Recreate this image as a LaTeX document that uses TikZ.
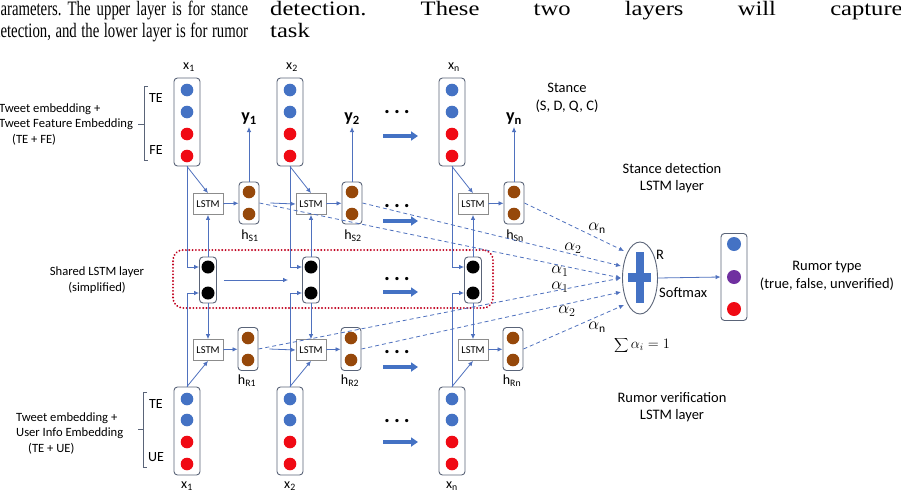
\documentclass[tikz,border=0pt]{standalone}
\usepackage{fontspec}
\setmainfont{Carlito}
\newfontfamily\paperfont{Liberation Serif}
\usepackage{graphicx}
\usetikzlibrary{arrows.meta}
\usetikzlibrary{shapes.geometric}
\usetikzlibrary{calc}

\definecolor{dotblue}{RGB}{68,114,196}
\definecolor{dotred}{RGB}{240,10,20}
\definecolor{dotbrown}{RGB}{150,72,10}
\definecolor{dotpurple}{RGB}{112,48,160}
\definecolor{boxline}{RGB}{90,100,120}
\definecolor{lstmline}{RGB}{140,140,140}
\definecolor{wire}{RGB}{79,113,190}
\definecolor{sharedred}{RGB}{192,0,30}

\tikzset{
  vecbox/.style={draw=boxline, line width=0.9pt, rounded corners=3.5pt, fill=white, minimum width=26pt, inner sep=0pt},
  lstmbox/.style={draw=lstmline, line width=0.8pt, fill=white, minimum width=30pt, minimum height=21pt, inner sep=0pt, font=\fontsize{10.5}{10.5}\selectfont},
  wirearrow/.style={draw=wire, line width=0.8pt, -{Latex[length=5pt,width=4.5pt]}},
  attn/.style={wirearrow, dash pattern=on 4pt off 3pt},
  fatarrow/.style={draw=dotblue, line width=3.2pt, -{Triangle[length=7pt,width=9pt]}},
  lab/.style={inner sep=1pt, font=\fontsize{14.5}{17.5}\selectfont, align=center},
  sidelab/.style={inner sep=0pt, font=\fontsize{12.6}{15.5}\selectfont},
  vlab/.style={inner sep=1pt, font=\fontsize{14}{14}\selectfont},
  alab/.style={inner sep=1pt, font=\fontsize{16.5}{16.5}\selectfont},
  ylab/.style={inner sep=2pt, font=\fontsize{18}{18}\selectfont\bfseries},
  dotrow/.style={anchor=base, inner sep=0pt, font=\fontsize{22}{22}\selectfont\bfseries},
  brace/.style={draw=boxline, line width=0.8pt},
  papertext/.style={anchor=base west, inner sep=0pt, font=\paperfont\fontsize{20.5}{21}\selectfont\frenchspacing},
}

\begin{document}
\begin{tikzpicture}[x=1pt,y=-1pt]
  \useasboundingbox (0,0) rectangle (901,498);

  % cut text of the page
  \node[papertext] (p1) at (-7,15) {\scalebox{0.72}[1]{\makebox[354pt][s]{parameters. The upper layer is for stance}}};
  \node[papertext] (p2) at (-7,37) {\scalebox{0.72}[1]{\makebox[354pt][s]{detection, and the lower layer is for rumor}}};
  \node[papertext] (p3) at (270,15) {\scalebox{1.2}[1]{\makebox[527pt][s]{detection. These two layers will capture}}};
  \node[papertext] (p4) at (270,37) {\scalebox{1.2}[1]{task}};

  \node[draw=sharedred, line width=2pt, dash pattern=on 0.1pt off 3.2pt, line cap=round,
        rounded corners=10pt, minimum width=320pt, minimum height=58pt] (shbox) at (333,279) {};

  \foreach \X/\i in {187/1,290/2,452/n}{
    \node[vecbox, minimum height=88pt] (xs\i) at (\X,122) {};
    \foreach \yy/\cc in {90/dotblue,112/dotblue,134/dotred,156/dotred}
      \fill[\cc] (\X,\yy) circle (6.3pt);
    \node[vecbox, minimum height=88pt] (xr\i) at (\X,431) {};
    \foreach \yy/\cc in {399/dotblue,420/dotblue,442/dotred,464/dotred}
      \fill[\cc] (\X,\yy) circle (6.3pt);
    \node[vecbox, minimum width=17pt, minimum height=46pt] (sh\i) at (\X+21,280) {};
    \foreach \yy in {267,293}
      \fill[black] (\X+21,\yy) circle (6.5pt);
    \node[vecbox, minimum width=20pt, minimum height=42pt] (hs\i) at (\X+62,203) {};
    \node[vecbox, minimum width=20pt, minimum height=43pt] (hr\i) at (\X+61,349) {};
    \foreach \yy in {192,214}
      \fill[dotbrown] (\X+62,\yy) circle (6.3pt);
    \foreach \yy in {338,360}
      \fill[dotbrown] (\X+61,\yy) circle (6.3pt);
    \node[lstmbox] (ls\i) at (\X+21,204) {LSTM};
    \node[lstmbox] (lr\i) at (\X+21,350) {LSTM};

    \node[vlab] (xsl\i) at (\X+2,67) {x\textsubscript{\i}};
    \node[vlab] (xrl\i) at (\X,486) {x\textsubscript{\i}};
    \node[ylab, anchor=south] (y\i) at (\X+62,127) {y\textsubscript{\i}};
    \node[vlab] (hsl\i) at (\X+63,236) {$\mathrm{h}_{\mathrm{S\i}}$};
    \node[vlab] (hrl\i) at (\X+60,381) {$\mathrm{h}_{\mathrm{R\i}}$};

    \draw[wirearrow] (xs\i.south) |- ([yshift=13pt]sh\i.west);
    \draw[wirearrow] (xs\i.south) -- (ls\i.north);
    \draw[wirearrow] (sh\i.north) -- (ls\i.south);
    \draw[wirearrow] (ls\i) -- (hs\i);
    \draw[wirearrow] (hs\i.north) -- (y\i.south);
    \draw[wirearrow] (xr\i.north) |- ([yshift=-13pt]sh\i.west);
    \draw[wirearrow] (xr\i.north) -- (lr\i.south);
    \draw[wirearrow] (sh\i.south) -- (lr\i.north);
    \draw[wirearrow] (lr\i) -- (hr\i);
  }

  \draw[wirearrow] ([xshift=11pt]hs1.east) -- (ls2.west);
  \draw[wirearrow] ([xshift=11pt]hr1.east) -- (lr2.west);
  \draw[wirearrow] ([xshift=7pt]sh1.east) -- ([xshift=-14pt]sh2.west);

  \foreach \k/\yd/\ya in {1/113/136,2/207/221,3/280/292,4/353/367,5/422/442}{
    \node[dotrow] (dots\k) at (397,\yd) {.\hspace{4pt}.\hspace{4pt}.};
    \coordinate (fa\k) at (383,\ya);
    \coordinate (fb\k) at (418,\ya);
    \draw[fatarrow] (fa\k) -- (fb\k);
  }

  % input descriptions
  \node[sidelab, align=left, anchor=west] (tfe) at (-1,124) {Tweet embedding +\\Tweet Feature Embedding\\\hspace*{13pt}(TE + FE)};
  \node[sidelab, align=left, anchor=west] (tue) at (16,433) {Tweet embedding +\\User Info Embedding\\\hspace*{12pt}(TE + UE)};
  \draw[brace] (148,86) -- (144,86) -- (144,160) -- (148,160) (144,124) -- (138,124);
  \draw[brace] (147,392) -- (143,392) -- (143,467) -- (147,467) (143,429) -- (138,429);
  \node[vlab] (te1) at (156,98) {TE};
  \node[vlab] (fe1) at (156,150) {FE};
  \node[vlab] (te2) at (156,404) {TE};
  \node[vlab] (ue2) at (156,457) {UE};
  \node[sidelab, align=center] (shl) at (97,280) {Shared LSTM layer\\(simplified)};

  % attention and output
  \node[ellipse, draw=boxline, line width=0.9pt, minimum width=35pt, minimum height=72pt, inner sep=0pt] (R) at (640,278) {};
  \fill[dotblue] (635.5,252) rectangle (643.5,303);
  \fill[dotblue] (628,272.5) rectangle (651,281.5);
  \node[vecbox, minimum height=87pt] (out) at (734,277) {};
  \fill[dotblue] (734,244) circle (7pt);
  \fill[dotpurple] (734,277) circle (7pt);
  \fill[dotred] (734,309) circle (7pt);
  \draw[wirearrow] (R.east) -- (out.west);

  \draw[attn] (hsn.east) -- ($(R)+(-16,-27)$);
  \draw[attn] (hs2.east) -- ($(R)+(-19,-12)$);
  \draw[attn] (hs1.east) -- ($(R)+(-19,0)$);
  \draw[attn] (hr1.east) -- ($(R)+(-19,0)$);
  \draw[attn] (hr2.east) -- ($(R)+(-19,14)$);
  \draw[attn] (hrn.east) -- ($(R)+(-16,27)$);

  \node[alab] (an1) at (597,228) {$\alpha_{\mathrm{n}}$};
  \node[alab] (a21) at (573,248) {$\alpha_2$};
  \node[alab] (a11) at (560,271) {$\alpha_1$};
  \node[alab] (a12) at (560,287) {$\alpha_1$};
  \node[alab] (a22) at (567,311) {$\alpha_2$};
  \node[alab] (an2) at (597,327) {$\alpha_{\mathrm{n}}$};
  \node[vlab] (asum) at (642,345) {$\displaystyle\sum \alpha_i = 1$};

  \node[lab, anchor=west] (rlab) at (655,255) {R};
  \node[lab, anchor=west] (smax) at (658,293) {Softmax};
  \node[lab] (stance) at (567,98) {Stance\\(S, D, Q, C)};
  \node[lab] (sdl) at (672,178) {Stance detection\\LSTM layer};
  \node[lab] (rvl) at (672,407) {Rumor verification\\LSTM layer};
  \node[lab] (rtype) at (827,276) {Rumor type\\(true, false, unverified)};
\end{tikzpicture}
\end{document}
